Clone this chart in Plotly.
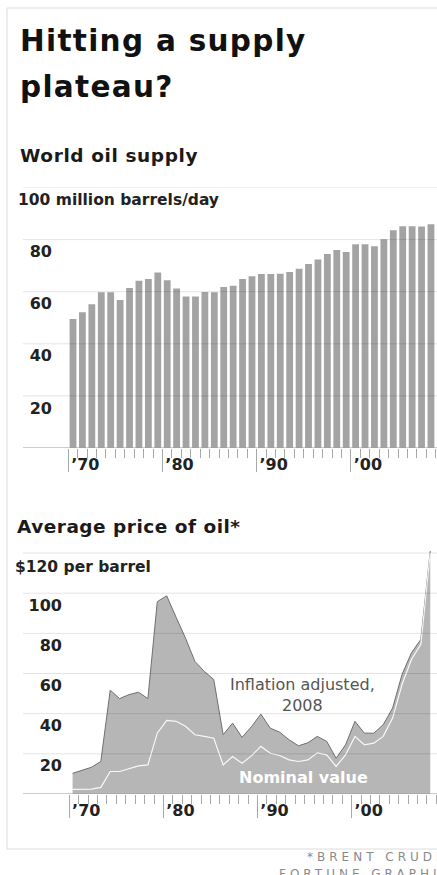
import plotly.graph_objects as go

W, H = 437, 875

# ---------------- data ----------------
supply_years = list(range(1970, 2009))
supply_mbd = [49.5, 52.1, 55.2, 59.8, 59.8, 56.8, 61.4, 64.2, 64.9, 67.4,
              64.4, 61.2, 58.2, 58.2, 59.9, 59.8, 61.8, 62.3, 64.9, 65.9,
              66.8, 66.8, 66.9, 67.6, 68.8, 70.6, 72.4, 74.5, 76.0, 75.2,
              78.2, 78.2, 77.4, 80.1, 83.6, 85.1, 85.1, 85.0, 85.9]

price_years = list(range(1970, 2009))
price_real = [10.3, 11.7, 13.3, 16.2, 51.7, 47.5, 49.5, 50.7, 47.5, 95.8,
              98.7, 88.0, 77.6, 66.0, 61.0, 57.0, 29.5, 35.3, 28.2, 33.5,
              39.8, 32.8, 30.8, 27.0, 24.0, 25.5, 28.7, 26.2, 17.8, 24.5,
              36.2, 30.3, 30.3, 34.5, 42.8, 59.5, 70.3, 77.0, 121.0]
price_nominal = [2.3, 2.3, 2.4, 3.3, 11.2, 11.2, 12.5, 14.0, 14.5, 30.3,
                 36.7, 36.2, 33.7, 29.5, 28.7, 27.8, 14.5, 18.7, 15.3, 19.0,
                 23.7, 20.3, 19.2, 17.0, 16.2, 17.0, 20.5, 19.5, 13.7, 19.5,
                 28.7, 24.5, 25.3, 28.7, 37.8, 54.5, 67.0, 74.5, 120.0]

supply_ticks = [20, 40, 60, 80]
supply_top = 100
price_ticks = [20, 40, 60, 80, 100]
price_top = 120
decade_ticks = [1970, 1980, 1990, 2000]
decade_labels = ["\u201970", "\u201980", "\u201990", "\u201900"]


def px(x):
    return x / W


def py(y):
    return 1 - y / H


FONT = "DejaVu Sans"
tickfont = dict(family=FONT, size=16, color="#222222", weight="bold")

fig = go.Figure()

fig.add_trace(go.Bar(
    x=[y + 0.5 for y in supply_years], y=supply_mbd, width=0.72,
    marker=dict(color="#a3a3a3", line=dict(width=0)),
    xaxis="x", yaxis="y", hoverinfo="skip"))

fig.add_trace(go.Scatter(
    x=[y + 0.35 for y in price_years], y=price_real, mode="lines",
    fill="tozeroy", fillcolor="#b6b6b6",
    line=dict(color="#707070", width=1),
    xaxis="x2", yaxis="y2", hoverinfo="skip"))

fig.add_trace(go.Scatter(
    x=[y + 0.35 for y in price_years], y=price_nominal, mode="lines",
    line=dict(color="rgba(255,255,255,0.9)", width=1.2),
    xaxis="x2", yaxis="y2", hoverinfo="skip"))

xcommon = dict(
    tickvals=decade_ticks, ticktext=decade_labels,
    ticks="outside", ticklen=23, tickwidth=1, tickcolor="#a8a8a8",
    minor=dict(tick0=1970, dtick=1, ticks="outside", ticklen=9,
               tickwidth=1, tickcolor="#a8a8a8"),
    showgrid=False, zeroline=False, showline=False,
    tickfont=tickfont, ticklabelshift=17, ticklabelstandoff=-21,
    fixedrange=True)

ycommon = dict(showgrid=False, zeroline=False, showline=False, ticks="",
               tickfont=tickfont, ticklabelshift=12, fixedrange=True)

fig.update_layout(
    width=W, height=H,
    margin=dict(l=0, r=0, t=0, b=0),
    paper_bgcolor="white", plot_bgcolor="rgba(0,0,0,0)",
    showlegend=False,
    font=dict(family=FONT, color="#222222"),
    xaxis=dict(domain=[px(60), 1],
               range=[1970 + (60 - 68.3) / 9.42, 1970 + (437 - 68.3) / 9.42],
               anchor="y", **xcommon),
    yaxis=dict(domain=[py(448), py(187.5)], range=[0, 100], anchor="x",
               tickvals=supply_ticks, ticklabelstandoff=7, **ycommon),
    xaxis2=dict(domain=[px(69), 1],
                range=[1969.97, 1970 + (437 - 69) / 9.42],
                anchor="y2", **xcommon),
    yaxis2=dict(domain=[py(794), py(543)], range=[0, 125], anchor="x2",
                tickvals=price_ticks, ticklabelstandoff=6, **ycommon),
)

shapes = []
# outer frame
shapes.append(dict(type="rect", xref="paper", yref="paper",
                   x0=px(7), x1=1.2, y0=py(849), y1=py(8),
                   line=dict(color="#dcdcdc", width=1), layer="below"))
grid_color = "rgba(0,0,0,0.11)"
for v in supply_ticks + [supply_top]:
    shapes.append(dict(type="line", xref="paper", yref="y", x0=px(23), x1=1,
                       y0=v, y1=v, line=dict(color=grid_color, width=1),
                       layer="above"))
for v in price_ticks + [price_top]:
    shapes.append(dict(type="line", xref="paper", yref="y2", x0=px(23), x1=1,
                       y0=v, y1=v, line=dict(color=grid_color, width=1),
                       layer="above"))
for ax in ("y", "y2"):
    shapes.append(dict(type="line", xref="paper", yref=ax, x0=px(23), x1=1,
                       y0=0, y1=0, line=dict(color="#9a9a9a", width=1),
                       layer="above"))
fig.update_layout(shapes=shapes)


def ann(text, x, y, size, color="#1a1a1a", weight="normal", xanchor="left",
        spacing=None, align="left"):
    if spacing is not None:
        text = f'<span style="letter-spacing:{spacing}px">{text}</span>'
    return dict(text=text, xref="paper", yref="paper", x=px(x), y=py(y),
                xanchor=xanchor, yanchor="middle", showarrow=False,
                align=align,
                font=dict(family=FONT, size=size, color=color, weight=weight))


annotations = [
    ann("Hitting a supply", 18, 41, 29.5, "#111111", "bold", spacing=1.3),
    ann("plateau?", 18, 87, 29.5, "#111111", "bold", spacing=1.3),
    ann("World oil supply", 18, 155.5, 18.5, "#1a1a1a", "bold", spacing=0.6),
    ann("100 million barrels/day", 16, 200.5, 15.5, "#222222", "bold"),
    ann("Average price of oil*", 15, 526, 18.5, "#1a1a1a", "bold", spacing=0.5),
    ann("$120 per barrel", 13, 566.5, 15.5, "#222222", "bold"),
    ann("Inflation adjusted,<br>2008", 302, 695, 16, "#555555", "normal",
        xanchor="center", align="center"),
    ann("Nominal value", 303.5, 777.5, 16, "#ffffff", "bold",
        xanchor="center"),
    ann("*BRENT CRUDE", 305, 856.5, 12, "#8a8a8a", "normal", spacing=4),
    ann("FORTUNE GRAPHIC", 277, 873.5, 12, "#8a8a8a", "normal", spacing=4),
]
fig.update_layout(annotations=annotations)

fig.write_html(
    "out.html",
    config={"displayModeBar": False, "staticPlot": True},
    post_script="document.body.style.margin='0';"
                "document.body.style.overflow='hidden';")
